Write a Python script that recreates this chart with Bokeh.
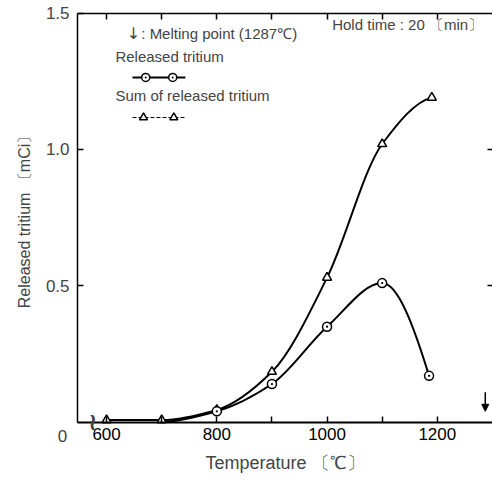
import numpy as np
from bokeh.plotting import figure
from bokeh.models import (Range1d, LinearAxis, FixedTicker, Label, Arrow, NormalHead,
                          PrintfTickFormatter)
from bokeh.embed import file_html
from bokeh.resources import INLINE

# Release of tritium versus heating temperature (hold time 20 min)
temps_sum = [600, 700, 800, 900, 1000, 1100, 1190]
sum_released = [0.008, 0.008, 0.045, 0.185, 0.53, 1.02, 1.19]

temps_released = [700, 800, 900, 1000, 1100, 1185]
released = [0.0, 0.04, 0.14, 0.35, 0.51, 0.17]

x_ticks = [600, 700, 800, 900, 1000, 1100, 1200]
x_tick_labels = {600: "600", 700: "", 800: "800", 900: "", 1000: "1000", 1100: "", 1200: "1200"}
y_ticks = [0.5, 1.0, 1.5]
melting_point = 1287

# visible extent of the axes (temperature axis is broken below 600)
X_MIN, X_MAX = 547.3, 1300
Y_MIN, Y_MAX = 0.0, 1.5

FONT = "Liberation Sans"


def monotone_bezier(xs, ys):
    """Monotone cubic (Fritsch-Carlson) curve through the points, as Bezier segments."""
    x = np.asarray(xs, float)
    y = np.asarray(ys, float)
    h = np.diff(x)
    d = np.diff(y) / h
    m = np.zeros_like(x)
    for i in range(1, len(x) - 1):
        if d[i - 1] * d[i] > 0:
            w1 = 2 * h[i] + h[i - 1]
            w2 = h[i] + 2 * h[i - 1]
            m[i] = (w1 + w2) / (w1 / d[i - 1] + w2 / d[i])

    def end_slope(h0, h1, d0, d1):
        s = ((2 * h0 + h1) * d0 - h0 * d1) / (h0 + h1)
        if np.sign(s) != np.sign(d0):
            return 0.0
        if np.sign(d0) != np.sign(d1) and abs(s) > 3 * abs(d0):
            return 3 * d0
        return s

    m[0] = end_slope(h[0], h[1], d[0], d[1])
    m[-1] = end_slope(h[-1], h[-2], d[-1], d[-2])
    return dict(
        x0=x[:-1], y0=y[:-1], x1=x[1:], y1=y[1:],
        cx0=x[:-1] + h / 3, cy0=y[:-1] + m[:-1] * h / 3,
        cx1=x[1:] - h / 3, cy1=y[1:] - m[1:] * h / 3,
    )


# The frame covers the whole canvas; the axes are pinned at fixed data locations
# so the tick labels, titles and the corner "0" all fit inside it.
p = figure(
    width=492, height=485,
    x_range=Range1d(407.6, 1300.1), y_range=Range1d(-0.232, 1.546),
    output_backend="svg", toolbar_location=None,
    min_border_left=0, min_border_right=0, min_border_top=0, min_border_bottom=0,
)
p.outline_line_color = None
p.xgrid.grid_line_color = None
p.ygrid.grid_line_color = None
p.background_fill_color = "white"
p.border_fill_color = "white"

# bottom axis
xa = p.xaxis[0]
xa.fixed_location = Y_MIN
xa.bounds = (X_MIN, X_MAX)
xa.ticker = FixedTicker(ticks=x_ticks)
xa.major_label_overrides = x_tick_labels
xa.major_tick_in = 6
xa.major_tick_out = 0
xa.minor_tick_line_color = None
xa.axis_line_width = 1.8
xa.major_tick_line_width = 1.5
xa.major_label_standoff = 6
xa.major_label_text_font = FONT
xa.major_label_text_font_size = "17px"
xa.major_label_text_color = "black"
xa.axis_label = "Temperature 〔℃〕"
xa.axis_label_text_font = FONT
xa.axis_label_text_font_size = "18px"
xa.axis_label_text_font_style = "normal"
xa.axis_label_standoff = 9

# left axis
ya = p.yaxis[0]
ya.fixed_location = X_MIN
ya.bounds = (Y_MIN, Y_MAX)
ya.ticker = FixedTicker(ticks=y_ticks)
ya.formatter = PrintfTickFormatter(format="%.1f")
ya.major_tick_in = 6
ya.major_tick_out = 0
ya.minor_tick_line_color = None
ya.axis_line_width = 1.5
ya.major_tick_line_width = 1.5
ya.major_label_standoff = 8
ya.major_label_text_font = FONT
ya.major_label_text_font_size = "17px"
ya.axis_label = "Released tritium 〔mCi〕"
ya.axis_label_text_font = FONT
ya.axis_label_text_font_size = "16px"
ya.axis_label_text_font_style = "normal"
ya.axis_label_standoff = 10

# top axis: ticks only
top = LinearAxis(ticker=FixedTicker(ticks=x_ticks), fixed_location=Y_MAX, bounds=(X_MIN, X_MAX),
                 major_tick_in=6, major_tick_out=0,
                 major_label_text_font_size="1px", major_label_text_color=None,
                 major_label_standoff=0,
                 minor_tick_line_color=None, axis_line_width=1.5, major_tick_line_width=1.5)
p.add_layout(top, "above")

# right side: ticks only, no spine
right = LinearAxis(ticker=FixedTicker(ticks=[0.5, 1.0]), fixed_location=X_MAX,
                   major_tick_in=5, major_tick_out=0,
                   major_label_text_font_size="1px", major_label_text_color=None,
                   major_label_standoff=0,
                   minor_tick_line_color=None, axis_line_color=None, major_tick_line_width=1.5)
p.add_layout(right, "right")

# zero of the value axis, written under the corner
p.add_layout(Label(x=520, y=Y_MIN, text="0", text_align="center", text_baseline="top",
                   y_offset=-8, text_font=FONT, text_font_size="17px"))
# break in the temperature axis
p.add_layout(Label(x=575, y=Y_MIN, text="≀", text_align="center", text_baseline="middle",
                   text_font="DejaVu Sans", text_font_size="24px", text_font_style="bold"))

# curves
seg_sum = monotone_bezier(temps_sum, sum_released)
p.bezier(source=seg_sum, x0="x0", y0="y0", x1="x1", y1="y1",
         cx0="cx0", cy0="cy0", cx1="cx1", cy1="cy1", line_color="black", line_width=2)
seg_rel = monotone_bezier(temps_released, released)
p.bezier(source=seg_rel, x0="x0", y0="y0", x1="x1", y1="y1",
         cx0="cx0", cy0="cy0", cx1="cx1", cy1="cy1", line_color="black", line_width=2)

# markers
p.scatter(temps_sum, sum_released, marker="triangle", size=9, line_color="black",
          line_width=1.5, fill_color="white")
p.scatter(temps_released[1:], released[1:], marker="circle_dot", size=9, line_color="black",
          line_width=1.5, fill_color="white")

# melting point arrow
p.add_layout(Arrow(end=NormalHead(size=7, fill_color="black", line_color="black"),
                   x_start=melting_point, y_start=0.11, x_end=melting_point, y_end=0.04,
                   line_width=1.5, line_color="black"))

# key
p.add_layout(Label(x=649, y=1.425, text="↓", text_align="center", text_baseline="middle",
                   text_font="DejaVu Sans", text_font_size="16px"))
p.add_layout(Label(x=663, y=1.425, text=": Melting point (1287℃)", text_baseline="middle",
                   text_font=FONT, text_font_size="15px"))
p.add_layout(Label(x=616, y=1.341, text="Released tritium", text_baseline="middle",
                   text_font=FONT, text_font_size="15px"))
p.line([647, 743], [1.264, 1.264], line_color="black", line_width=2)
p.scatter([671, 720], [1.264, 1.264], marker="circle_dot", size=8, line_color="black",
          line_width=1.5, fill_color="white")
p.add_layout(Label(x=616, y=1.198, text="Sum of released tritium", text_baseline="middle",
                   text_font=FONT, text_font_size="15px"))
p.line([647, 743], [1.117, 1.117], line_color="black", line_width=1, line_dash="4 2")
p.scatter([667, 722], [1.117, 1.117], marker="triangle", size=8, line_color="black",
          line_width=1.5, fill_color="white")

p.add_layout(Label(x=1283, y=1.458, text="Hold time : 20 〔min〕", text_align="right",
                   text_baseline="middle", text_font=FONT, text_font_size="15px"))

open("out.html", "w").write(file_html(p, INLINE))
